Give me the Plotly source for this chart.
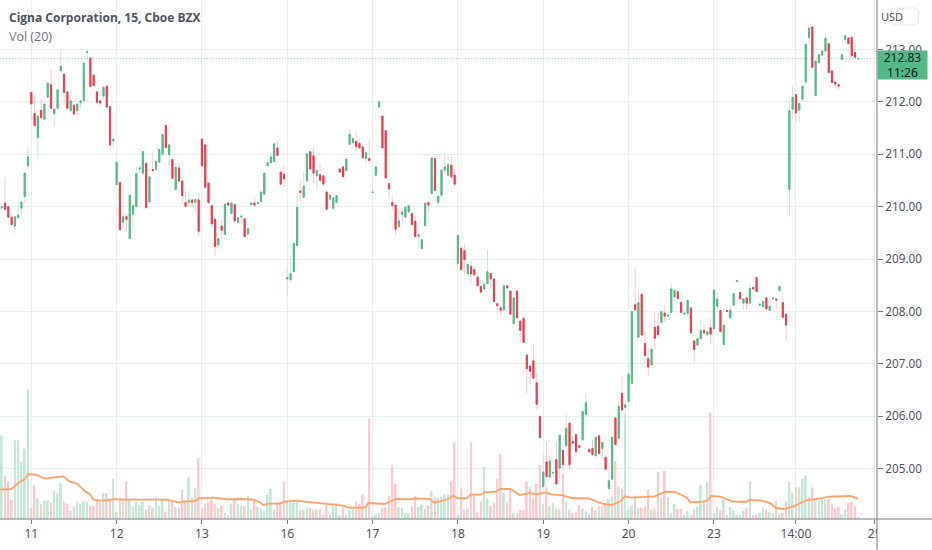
import plotly.graph_objects as go

FONT = "Noto Sans"
UP = "#53b987"
DOWN = "#ef3b50"
UP_WICK = "#cde5dc"
DOWN_WICK = "#f9c8ce"
UP_VOL = "#c5e7d5"
DOWN_VOL = "#fcc9cf"
GRID = "#e8f0f6"
AXIS = "#787b86"
TEXT = "#50535e"

first_bar = -9

opens = [
    209.98, 210.07, 210.00, 209.80, 209.63, 209.79, 209.97, 210.19, 210.78, 212.18,
    211.78, 211.32, 211.84, 211.67, 212.09, 212.33, 211.77, 211.88, 212.59, 212.53,
    212.19, 211.83, 211.94, 211.83, 211.98, 212.02, 212.94, 212.84, 212.51, 212.19,
    212.02, 212.11, 212.30, 211.91, 211.26, 210.42, 210.46, 209.70, 209.81, 209.39,
    209.86, 210.00, 210.72, 210.64, 210.83, 210.09, 210.71, 210.71, 210.85, 211.00,
    211.55, 210.99, 210.90, 210.33, 210.74, 210.49, 210.08, 210.08, 210.13, 210.08,
    210.13, 211.29, 211.18, 210.45, 210.02, 209.76, 209.27, 209.63, 209.47, 210.07,
    209.87, 210.04, 209.70, 209.80, 209.77, 209.48, 210.04, 210.07, 210.06, 210.10,
    210.24, 210.78, 210.84, 210.86, 211.12, 210.66, 210.62, 208.62, 208.61, 208.76,
    209.26, 210.30, 210.18, 210.49, 211.05, 210.97, 210.59, 210.61, 210.59, 210.28,
    210.14, 209.97, 210.08, 210.72, 210.76, 210.69, 211.19, 211.22, 211.25, 211.21,
    211.14, 210.92, 210.92, 210.27, 210.60, 211.90, 211.73, 211.45, 210.44, 210.08,
    210.03, 209.62, 209.85, 209.80, 209.90, 209.87, 209.72, 209.43, 209.20, 209.64,
    210.08, 210.25, 210.92, 210.08, 210.22, 210.70, 210.60, 210.79, 210.60, 208.91,
    209.21, 209.16, 208.72, 208.86, 208.80, 208.66, 208.48, 208.43, 208.53, 208.73,
    208.62, 208.15, 208.07, 208.03, 208.49, 208.39, 207.77, 208.39, 207.82, 207.87,
    207.17, 206.96, 207.06, 206.64, 206.00, 204.66, 205.13, 204.84, 204.92, 205.17,
    205.01, 205.35, 205.44, 205.87, 205.52, 205.65, 205.44, 205.55, 206.04, 205.37,
    205.39, 205.25, 205.63, 205.39, 205.22, 204.62, 204.80, 205.97, 205.58, 206.44,
    206.17, 206.28, 206.63, 208.13, 207.51, 208.33, 207.39, 207.10, 206.98, 207.70,
    207.72, 207.79, 207.97, 207.91, 207.98, 208.28, 208.38, 208.17, 207.95, 207.96,
    208.07, 207.44, 207.36, 207.48, 207.64, 207.56, 207.69, 207.67, 208.10, 208.02,
    207.37, 208.02, 207.88, 208.12, 208.57, 208.36, 208.16, 208.26, 208.16, 208.46,
    208.65, 208.12, 208.09, 208.26, 208.02, 208.24, 208.24, 208.40, 208.17, 207.95,
    210.33, 211.86, 212.14, 211.84, 212.05, 212.38, 213.23, 213.43, 212.12, 212.75,
    212.89, 212.97, 213.11, 212.59, 212.38, 212.33, 212.81, 213.19, 213.22, 213.23,
    212.94, 212.82,
]
closes = [
    210.00, 209.95, 209.80, 209.66, 209.81, 209.84, 210.09, 210.64, 210.95, 211.96,
    211.55, 211.73, 211.70, 211.96, 212.36, 211.88, 211.86, 212.23, 212.68, 212.18,
    211.88, 212.02, 211.77, 211.96, 212.02, 212.74, 212.96, 212.29, 212.31, 211.99,
    211.98, 212.28, 211.90, 211.18, 211.29, 210.85, 209.56, 209.81, 209.76, 210.22,
    210.02, 210.63, 210.74, 211.05, 209.98, 210.57, 210.69, 210.87, 211.09, 211.38,
    211.13, 211.18, 210.54, 210.75, 210.49, 210.21, 210.01, 210.13, 210.08, 210.14,
    209.53, 210.78, 210.37, 210.08, 209.67, 209.24, 209.39, 209.55, 210.05, 210.03,
    210.07, 209.73, 209.79, 209.82, 209.43, 209.58, 210.07, 210.03, 210.08, 210.28,
    210.64, 210.84, 210.95, 211.20, 210.98, 210.43, 210.53, 208.65, 208.72, 209.30,
    209.99, 210.27, 210.39, 211.01, 210.72, 210.64, 210.69, 210.50, 210.43, 209.95,
    210.22, 210.17, 210.21, 210.66, 210.57, 210.91, 211.38, 211.30, 211.15, 211.12,
    210.93, 211.03, 210.88, 210.28, 210.76, 212.00, 211.12, 210.55, 210.34, 210.02,
    209.57, 209.73, 209.90, 209.99, 210.02, 209.66, 209.43, 209.47, 209.37, 210.07,
    210.03, 210.93, 210.31, 210.20, 210.70, 210.76, 210.80, 210.57, 210.43, 209.45,
    208.80, 208.99, 208.90, 208.72, 208.70, 208.49, 208.37, 208.52, 208.76, 208.62,
    208.19, 208.11, 208.02, 208.49, 208.45, 207.95, 208.26, 207.88, 207.64, 207.41,
    206.91, 206.86, 206.73, 206.23, 205.59, 204.94, 204.85, 205.15, 204.93, 204.71,
    205.64, 205.08, 205.77, 205.08, 205.49, 205.33, 205.41, 206.09, 206.26, 205.32,
    205.27, 205.60, 205.29, 205.50, 204.99, 204.77, 205.60, 205.46, 206.19, 206.12,
    206.22, 206.81, 208.00, 208.03, 208.17, 207.55, 207.16, 206.94, 207.28, 207.49,
    207.56, 208.00, 207.91, 207.93, 208.43, 208.40, 208.25, 207.98, 207.97, 208.21,
    207.59, 207.28, 207.48, 207.64, 207.59, 207.61, 207.57, 208.41, 208.24, 207.62,
    207.74, 208.00, 208.03, 208.34, 208.59, 208.24, 208.24, 208.16, 208.44, 208.43,
    208.38, 208.14, 208.19, 208.05, 208.10, 208.26, 208.22, 208.48, 207.89, 207.74,
    211.83, 212.09, 211.79, 211.97, 212.30, 213.10, 213.41, 212.66, 212.78, 212.90,
    212.97, 213.21, 212.56, 212.37, 212.34, 212.30, 212.90, 213.26, 213.11, 212.88,
    212.85, 212.83,
]
highs = [
    210.07, 210.56, 210.00, 209.88, 209.84, 210.09, 210.09, 210.64, 211.16, 212.18,
    212.11, 211.73, 212.05, 211.96, 212.36, 212.61, 211.86, 212.23, 213.00, 212.53,
    212.19, 212.12, 211.94, 211.96, 212.03, 212.74, 213.00, 212.84, 212.51, 212.19,
    212.03, 212.28, 212.30, 211.91, 211.30, 210.85, 210.46, 209.86, 209.86, 210.22,
    210.02, 210.77, 210.77, 211.05, 210.83, 210.57, 211.05, 210.87, 211.09, 211.38,
    211.55, 211.18, 210.90, 210.83, 210.83, 210.49, 210.29, 210.30, 210.13, 210.14,
    210.26, 211.29, 211.18, 210.45, 210.02, 209.76, 209.39, 209.75, 210.05, 210.07,
    210.07, 210.04, 209.79, 209.82, 209.77, 209.58, 210.10, 210.18, 210.10, 210.28,
    210.64, 210.91, 211.02, 211.20, 211.24, 210.70, 210.78, 208.83, 209.07, 209.30,
    210.21, 210.50, 210.66, 211.01, 211.05, 211.12, 210.69, 210.81, 210.59, 210.28,
    210.22, 210.17, 210.21, 210.72, 210.76, 210.91, 211.47, 211.32, 211.42, 211.30,
    211.14, 211.03, 211.26, 210.29, 210.76, 212.00, 211.73, 211.45, 210.44, 210.18,
    210.03, 209.96, 209.96, 209.99, 210.04, 209.87, 209.83, 209.51, 209.37, 210.07,
    210.08, 210.93, 210.92, 210.20, 210.70, 210.99, 210.96, 210.95, 210.70, 209.45,
    209.21, 209.29, 208.90, 208.97, 208.85, 208.66, 208.48, 208.59, 209.18, 208.73,
    208.62, 208.15, 208.10, 208.49, 208.49, 208.39, 208.26, 208.39, 207.82, 207.87,
    207.17, 206.96, 207.37, 206.80, 206.00, 205.30, 205.51, 205.24, 204.95, 205.52,
    205.64, 205.35, 206.05, 205.87, 205.62, 205.65, 205.44, 206.09, 206.44, 205.37,
    205.55, 205.60, 205.63, 205.50, 205.22, 205.11, 205.60, 205.97, 206.28, 206.76,
    206.32, 207.02, 208.00, 208.84, 208.42, 208.33, 207.62, 207.30, 207.28, 207.98,
    207.98, 208.00, 208.13, 207.93, 208.53, 208.40, 208.38, 208.17, 207.97, 208.21,
    208.07, 207.44, 207.48, 207.86, 207.75, 207.64, 207.86, 208.41, 208.37, 208.02,
    207.74, 208.02, 208.11, 208.34, 208.59, 208.36, 208.26, 208.26, 208.53, 208.46,
    208.65, 208.14, 208.19, 208.26, 208.10, 208.26, 208.24, 208.49, 208.29, 207.95,
    212.03, 212.31, 212.14, 211.97, 212.30, 213.10, 213.44, 213.43, 212.78, 212.92,
    212.97, 213.29, 213.11, 212.59, 212.38, 212.33, 212.90, 213.29, 213.22, 213.27,
    213.10, 212.84,
]
lows = [
    209.94, 209.94, 209.78, 209.65, 209.50, 209.78, 209.83, 210.08, 210.71, 211.65,
    211.54, 210.92, 211.69, 211.64, 212.08, 211.86, 211.54, 211.87, 212.59, 211.94,
    211.86, 211.82, 211.74, 211.73, 211.88, 211.96, 212.81, 212.29, 212.31, 211.99,
    211.91, 212.03, 211.90, 211.11, 211.11, 210.42, 209.56, 209.58, 209.53, 209.39,
    209.55, 210.00, 210.63, 210.59, 209.98, 210.09, 210.68, 210.71, 210.85, 211.00,
    211.13, 210.79, 210.54, 210.33, 210.48, 210.05, 210.00, 210.00, 210.00, 209.88,
    209.45, 210.78, 210.37, 210.05, 209.60, 209.06, 209.19, 209.38, 209.47, 210.03,
    209.87, 209.70, 209.70, 209.68, 209.43, 209.39, 210.03, 210.02, 210.02, 210.10,
    210.24, 210.78, 210.84, 210.86, 210.98, 210.43, 210.37, 208.30, 208.56, 208.76,
    209.26, 210.10, 210.18, 210.49, 210.72, 210.44, 210.34, 210.48, 210.43, 209.95,
    210.14, 209.97, 210.08, 210.66, 210.57, 210.69, 211.19, 211.22, 211.07, 211.12,
    210.93, 210.83, 210.86, 210.26, 210.60, 211.90, 211.12, 210.55, 210.15, 209.94,
    209.45, 209.52, 209.66, 209.80, 209.90, 209.64, 209.43, 209.23, 209.20, 209.64,
    209.89, 210.25, 210.31, 210.04, 210.22, 210.63, 210.59, 210.53, 210.39, 208.91,
    208.80, 208.73, 208.72, 208.54, 208.69, 208.49, 208.34, 208.43, 208.53, 208.42,
    208.19, 207.96, 207.94, 208.03, 208.45, 207.95, 207.77, 207.88, 207.40, 207.41,
    206.42, 206.61, 206.73, 206.13, 205.59, 204.64, 204.83, 204.84, 204.89, 204.70,
    204.81, 204.95, 205.32, 204.99, 205.46, 205.23, 205.41, 205.55, 206.04, 205.32,
    205.26, 205.21, 205.24, 205.18, 204.99, 204.62, 204.80, 205.46, 205.58, 206.12,
    205.88, 206.28, 206.63, 208.03, 207.51, 207.55, 206.99, 206.78, 206.98, 207.26,
    207.49, 207.79, 207.79, 207.91, 207.98, 208.19, 208.25, 207.98, 207.95, 207.96,
    207.59, 207.03, 207.36, 207.48, 207.56, 207.53, 207.37, 207.67, 207.98, 207.62,
    207.37, 208.00, 207.88, 208.12, 208.57, 208.24, 208.03, 208.03, 208.16, 208.43,
    208.38, 208.12, 208.09, 208.05, 208.02, 208.24, 208.05, 208.36, 207.89, 207.44,
    209.81, 211.69, 211.62, 211.62, 212.00, 212.32, 213.08, 212.66, 212.12, 212.73,
    212.89, 212.97, 212.56, 212.37, 212.27, 212.23, 212.81, 213.17, 213.11, 212.88,
    212.83, 212.82,
]
volumes = [
    251, 130, 112, 58, 238, 236, 172, 211, 390, 34,
    103, 62, 44, 55, 55, 49, 85, 76, 108, 51,
    46, 25, 38, 53, 45, 53, 52, 40, 40, 56,
    51, 78, 78, 56, 121, 22, 64, 56, 113, 60,
    36, 51, 43, 52, 28, 42, 34, 66, 40, 58,
    22, 61, 53, 36, 34, 88, 50, 124, 64, 93,
    184, 34, 46, 53, 58, 46, 34, 40, 18, 12,
    46, 58, 46, 40, 40, 69, 30, 55, 36, 29,
    25, 73, 91, 30, 51, 51, 113, 55, 58, 48,
    51, 25, 29, 34, 33, 26, 28, 29, 13, 40,
    13, 46, 48, 11, 35, 13, 26, 33, 52, 46,
    73, 38, 302, 8, 13, 18, 34, 36, 70, 161,
    106, 36, 34, 18, 18, 38, 70, 36, 42, 30,
    40, 84, 67, 64, 66, 73, 75, 113, 230, 14,
    91, 28, 31, 232, 68, 20, 52, 157, 61, 40,
    48, 120, 196, 78, 48, 86, 18, 18, 28, 26,
    113, 95, 63, 106, 161, 46, 95, 40, 49, 30,
    28, 136, 51, 28, 18, 22, 42, 30, 23, 13,
    36, 26, 40, 40, 43, 60, 68, 173, 96, 91,
    313, 28, 40, 71, 34, 34, 36, 88, 28, 31,
    141, 64, 145, 66, 18, 45, 30, 30, 12, 24,
    13, 30, 36, 102, 58, 111, 320, 18, 36, 26,
    58, 12, 36, 25, 13, 12, 24, 34, 114, 12,
    12, 18, 34, 28, 22, 18, 54, 16, 18, 51,
    112, 79, 96, 95, 120, 130, 66, 95, 60, 56,
    60, 60, 60, 44, 32, 36, 14, 28, 48, 51,
    40, 7,
]

# vol ma at its bends
ma_bars = [
    -9.5, -6, -4, -2, -1, 1.4, 3, 4.4, 7, 9.8, 11.6, 14, 16.4, 18, 19, 21, 24, 25,
    28, 31, 35, 38, 41, 43, 45, 46, 50, 51, 55.5, 60, 63.6, 67.7, 69.5, 70.7, 72.3,
    75.8, 77.3, 80.4, 85, 91, 95, 96.8, 101.7, 102.7, 107.8, 110.9, 115.5, 117,
    121.5, 122.7, 126.6, 128.6, 129.7, 132.7, 133.9, 137, 138, 141.4, 142.9, 146,
    148.8, 152, 154, 157, 158.3, 161.7, 164.7, 167.3, 169.8, 174.4, 176.9, 179.5,
    180.9, 182.5, 186.6, 190, 193.2, 196.2, 199.8, 200.8, 204.9, 206.1, 207.1, 210,
    213.5, 217.6, 218.8, 222.2, 225.3, 226.8, 229.3, 232.3, 236.4, 239.4, 243,
    248.6, 249.6, 251.9,
]
ma_values = [
    88, 90, 108, 119, 135, 133, 126, 121, 125, 128, 113, 106, 83, 73, 58, 55, 57, 60,
    58, 58, 59, 57, 58, 54, 50, 52, 54, 62, 64, 59, 60, 58, 52, 42, 46,
    46, 52, 55, 50, 43, 40, 34, 34, 48, 45, 60, 59, 62,
    60, 49, 58, 70, 63, 62, 74, 73, 80, 82, 90, 90,
    72, 78, 74, 80, 74, 72, 63, 62, 62, 45, 42, 53,
    68, 64, 65, 68, 82, 81, 64, 50, 52, 56, 69, 67,
    53, 51, 57, 56, 47, 33, 30, 38, 57, 60, 67,
    68, 69, 61,
]

date_bars = [0, 26, 52, 78, 104, 130, 156, 182, 208, 233, 257]
date_labels = ["11", "12", "13", "16", "17", "18", "19", "20", "23", "14:00", "25"]
price_ticks = [205, 206, 207, 208, 209, 210, 211, 212, 213]

bars = list(range(first_bar, first_bar + len(opens)))
vol_colors = [UP_VOL if c >= o else DOWN_VOL for o, c in zip(opens, closes)]
body_top = [max(o, c) for o, c in zip(opens, closes)]
body_bottom = [min(o, c) for o, c in zip(opens, closes)]

# pixels of the reference, plot area is 0..876.7 x 0..519.3
def px(x):
    return x / 876.7

def py(y):
    return 1 - y / 519.3

fig = go.Figure()
fig.add_trace(go.Bar(x=bars, y=volumes, marker_color=vol_colors, marker_line_width=0,
                     width=0.55, yaxis="y", hoverinfo="skip"))
fig.add_trace(go.Scatter(x=ma_bars, y=ma_values, mode="lines", yaxis="y",
                         line=dict(color="#ffa26e", width=1.8), hoverinfo="skip"))
# wicks first, then the solid bodies over them
fig.add_trace(go.Candlestick(x=bars, open=opens, high=highs, low=lows, close=closes, yaxis="y2",
                             whiskerwidth=0, hoverinfo="skip",
                             increasing=dict(line=dict(color=UP_WICK, width=1), fillcolor=UP_WICK),
                             decreasing=dict(line=dict(color=DOWN_WICK, width=1), fillcolor=DOWN_WICK)))
fig.add_trace(go.Candlestick(x=bars, open=opens, high=body_top, low=body_bottom, close=closes, yaxis="y2",
                             whiskerwidth=0, hoverinfo="skip",
                             increasing=dict(line=dict(color=UP, width=1), fillcolor=UP),
                             decreasing=dict(line=dict(color=DOWN, width=1), fillcolor=DOWN)))

fig.update_layout(
    width=932, height=550, autosize=False,
    margin=dict(l=0, r=55.3, t=0, b=30.7),
    paper_bgcolor="white", plot_bgcolor="white",
    showlegend=False, boxmode="overlay", boxgap=0.5,
    font=dict(family=FONT, size=12, color=TEXT),
    xaxis=dict(range=[-9.54, 257.7], tickmode="array", tickvals=date_bars, ticktext=date_labels,
               showgrid=True, gridcolor=GRID, gridwidth=1, zeroline=False, rangeslider=dict(visible=False),
               ticks="outside", ticklen=4, tickcolor=AXIS, showline=False),
    yaxis=dict(range=[0, 1558], visible=False, fixedrange=True),
    yaxis2=dict(range=[204.041, 213.944], overlaying="y", side="right", anchor="x",
                tickmode="array", tickvals=price_ticks, tickformat=".2f", tickfont=dict(size=11.7),
                showgrid=True, gridcolor=GRID, gridwidth=1, zeroline=False,
                ticks="outside", ticklen=5, tickcolor=AXIS, showline=False),
)

# last price line, axis frame, mask over the clipped "25"
fig.add_shape(type="line", xref="paper", x0=0, x1=1, yref="y2", y0=closes[-1], y1=closes[-1],
              line=dict(color=UP, width=1, dash="1px,2px"), opacity=0.6)
fig.add_shape(type="rect", xref="paper", x0=1, x1=px(905), yref="paper", y0=py(521), y1=py(550),
              fillcolor="white", line_width=0, layer="above")
fig.add_shape(type="line", xref="paper", x0=0, x1=px(932), yref="paper", y0=0, y1=0,
              line=dict(color=AXIS, width=1), layer="above")
fig.add_shape(type="line", xref="paper", x0=1, x1=1, yref="paper", y0=py(550), y1=py(0),
              line=dict(color=AXIS, width=1), layer="above")
# rounded USD box
fig.add_shape(type="path", xref="paper", yref="paper", layer="above",
              path=(f"M {px(895)} {py(8)} L {px(914)} {py(8)} Q {px(918)} {py(8)} {px(918)} {py(12)} "
                    f"L {px(918)} {py(21)} Q {px(918)} {py(25)} {px(914)} {py(25)} "
                    f"L {px(895)} {py(25)} Q {px(891)} {py(25)} {px(891)} {py(21)} "
                    f"L {px(891)} {py(12)} Q {px(891)} {py(8)} {px(895)} {py(8)} Z"),
              line=dict(color="#e6e8ee", width=1), fillcolor="white")

fig.add_annotation(text="USD", xref="paper", yref="paper", x=px(904.5), y=py(16.5), yanchor="middle",
                   showarrow=False, font=dict(family=FONT, size=11, color=TEXT))
fig.add_annotation(text="<b>Cigna Corporation, 15, Cboe BZX</b>", xref="paper", yref="paper",
                   x=px(7), y=py(18), xanchor="left", yanchor="middle", showarrow=False,
                   font=dict(family="Open Sans", size=12, color="#50535e"))
fig.add_annotation(text="Vol (20)", xref="paper", yref="paper", x=px(7), y=py(37), xanchor="left",
                   yanchor="middle", showarrow=False,
                   font=dict(family="Open Sans", size=12.5, color="#70737e"))
fig.add_annotation(text=f"{closes[-1]:.2f}<br>11:26", xref="paper", yref="paper",
                   x=px(877), y=py(65), xanchor="left", yanchor="middle", showarrow=False, align="center",
                   bgcolor=UP, width=49, height=28, borderpad=0,
                   font=dict(family=FONT, size=12, color="#131722"))

fig.write_html("out.html", config=dict(displayModeBar=False), post_script="document.body.style.margin='0';")
